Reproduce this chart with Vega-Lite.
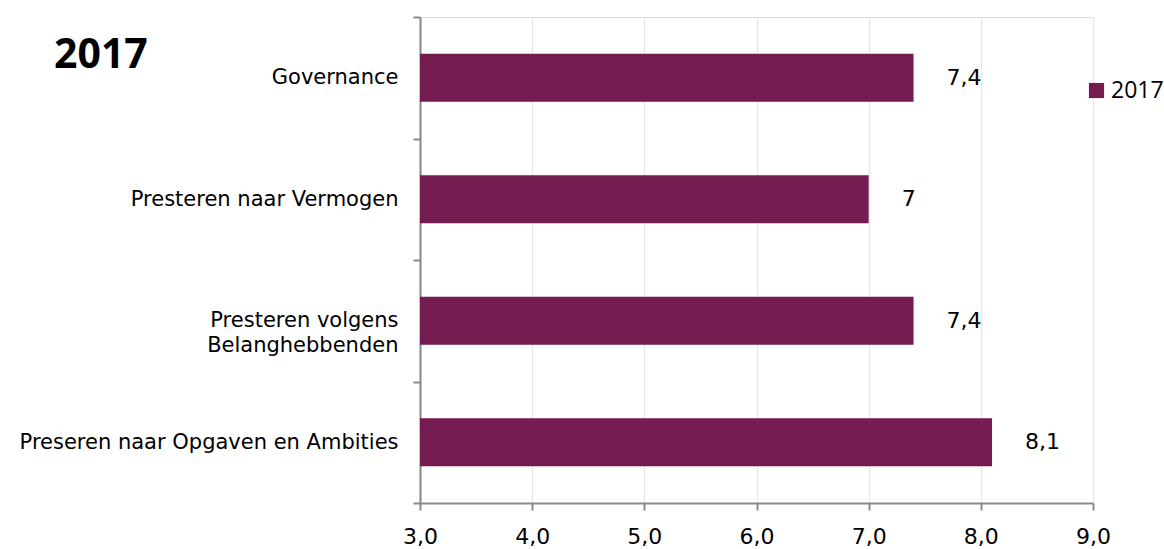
{
  "$schema": "https://vega.github.io/schema/vega-lite/v6.json",
  "autosize": {"type": "none"},
  "padding": {"left": 420, "top": 17, "right": 71, "bottom": 46},
  "width": 673,
  "height": 486,
  "background": "white",
  "title": {
    "text": "2017",
    "anchor": "start",
    "frame": "group",
    "font": "Open Sans",
    "fontSize": 41,
    "fontWeight": "bold",
    "color": "#000000",
    "dx": -366,
    "dy": 107,
    "baseline": "alphabetic"
  },
  "data": {
    "values": [
      {"category": "Governance", "value": 7.4, "label": "7,4", "series": "2017"},
      {"category": "Presteren naar Vermogen", "value": 7.0, "label": "7", "series": "2017"},
      {"category": "Presteren volgens Belanghebbenden", "value": 7.4, "label": "7,4", "series": "2017"},
      {"category": "Preseren naar Opgaven en Ambities", "value": 8.1, "label": "8,1", "series": "2017"}
    ]
  },
  "encoding": {
    "y": {
      "field": "category",
      "type": "nominal",
      "sort": null,
      "scale": {"paddingInner": 0, "paddingOuter": 0},
      "axis": {
        "title": null,
        "labelFont": "DejaVu Sans",
        "labelFontSize": 21,
        "labelColor": "#000000",
        "labelPadding": 15,
        "labelLimit": 420,
        "labelLineHeight": 25,
        "labelExpr": "datum.value == 'Presteren volgens Belanghebbenden' ? ['Presteren volgens', 'Belanghebbenden'] : datum.value",
        "tickBand": "extent",
        "tickSize": 7,
        "tickColor": "#888888",
        "tickWidth": 2,
        "domainColor": "#888888",
        "domainWidth": 2,
        "grid": false
      }
    }
  },
  "layer": [
    {
      "mark": {"type": "bar", "color": "#741B4F", "height": {"band": 0.395}},
      "encoding": {
        "x": {
          "field": "value",
          "type": "quantitative",
          "scale": {"domain": [3, 9], "nice": false, "zero": false},
          "axis": {
            "title": null,
            "values": [3, 4, 5, 6, 7, 8, 9],
            "labelExpr": "replace(format(datum.value, '.1f'), '.', ',')",
            "labelFont": "DejaVu Sans",
            "labelFontSize": 22,
            "labelColor": "#000000",
            "labelPadding": 16,
            "labelFlush": false,
            "labelOverlap": false,
            "tickSize": 7,
            "tickColor": "#888888",
            "tickWidth": 2,
            "domainColor": "#888888",
            "domainWidth": 2,
            "grid": true,
            "gridColor": "#E9E9E9",
            "gridWidth": 1.5
          }
        },
        "x2": {"datum": 3},
        "fill": {
          "field": "series",
          "type": "nominal",
          "scale": {"range": ["#741B4F"]},
          "legend": {
            "title": null,
            "orient": "none",
            "legendX": 665,
            "legendY": 62,
            "symbolType": "square",
            "symbolSize": 230,
            "labelFont": "Open Sans",
            "labelFontSize": 23,
            "labelColor": "#000000",
            "labelOffset": 3
          }
        }
      }
    },
    {
      "mark": {"type": "text", "align": "left", "dx": 33, "font": "DejaVu Sans", "fontSize": 22, "color": "#000000"},
      "encoding": {
        "x": {"field": "value", "type": "quantitative"},
        "text": {"field": "label"}
      }
    }
  ]
}
